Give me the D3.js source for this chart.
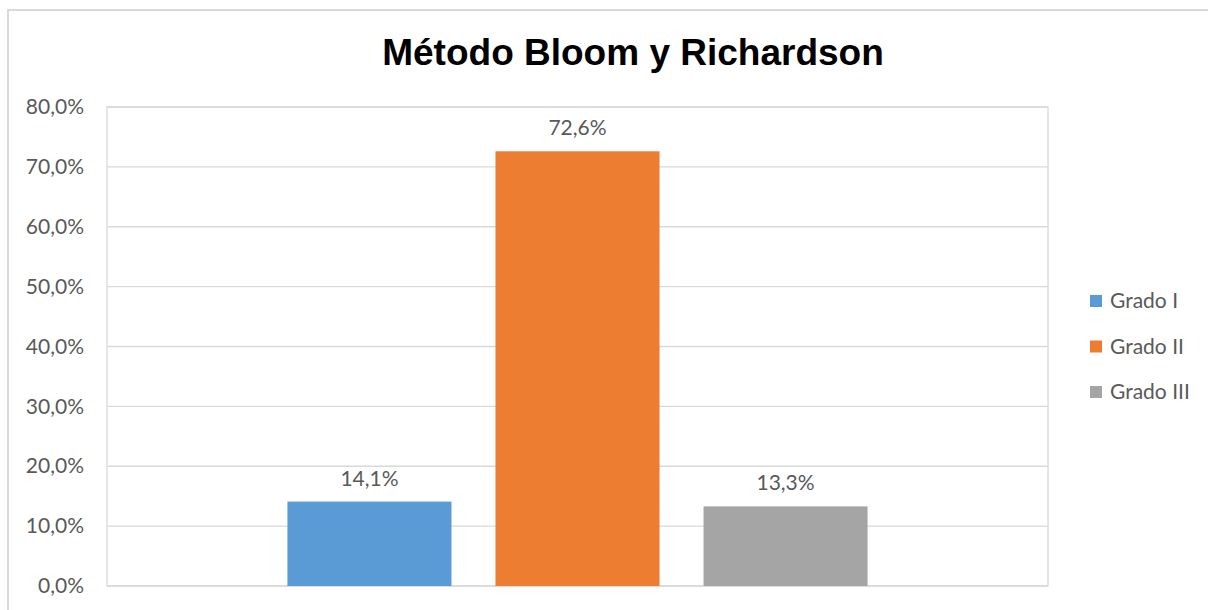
<!DOCTYPE html>
<html><head><meta charset="utf-8">
<script src="https://cdn.jsdelivr.net/npm/d3@7"></script>
<style>body{margin:0;background:#fff}</style>
</head><body>
<script>
const series = ["Grado I", "Grado II", "Grado III"];
const values = [14.1, 72.6, 13.3];
const colors = ["#5B9BD5", "#ED7D31", "#A5A5A5"];
const ticks = [0, 10, 20, 30, 40, 50, 60, 70, 80];
const title = "Método Bloom y Richardson";

const W = 1208, H = 610;
const svg = d3.select("body").append("svg").attr("width", W).attr("height", H);
const font = "Lato, 'Open Sans', sans-serif";
const fmt = v => d3.format(".1f")(v).replace(".", ",") + "%";

// outer chart border
svg.append("rect").attr("x", 8).attr("y", 10).attr("width", 1400).attr("height", 800)
  .attr("fill", "#fff").attr("stroke", "#d9d9d9").attr("stroke-width", 2);

const L = 107, T = 107, R = 1048, B = 586;
const y = d3.scaleLinear().domain([0, 80]).range([B, T]);
const x0 = d3.scaleBand().domain(["c"]).range([L, R]).paddingInner(0).paddingOuter(0.311);
const x1 = d3.scaleBand().domain(series).range([x0("c"), x0("c") + x0.bandwidth()]).paddingInner(0.2115);

// plot area border
svg.append("rect").attr("x", L).attr("y", T).attr("width", R - L).attr("height", B - T)
  .attr("fill", "none").attr("stroke", "#d9d9d9").attr("stroke-width", 1.3);

// gridlines
svg.append("g").selectAll("line").data(ticks).join("line")
  .attr("x1", L).attr("x2", R).attr("y1", d => y(d)).attr("y2", d => y(d))
  .attr("stroke", "#d9d9d9").attr("stroke-width", 1.3);

// y axis labels
const ax = svg.append("g").attr("transform", `translate(${L},0)`)
  .call(d3.axisLeft(y).tickValues(ticks).tickFormat(fmt).tickSize(0).tickPadding(23));
ax.select(".domain").remove();
ax.selectAll("text").attr("font-family", font).attr("font-size", 21).attr("fill", "#595959");

// bars
svg.append("g").selectAll("rect").data(values).join("rect")
  .attr("x", (d, i) => x1(series[i])).attr("width", x1.bandwidth())
  .attr("y", d => y(d)).attr("height", d => B - y(d))
  .attr("fill", (d, i) => colors[i]);

// data labels
svg.append("g").selectAll("text").data(values).join("text")
  .attr("x", (d, i) => x1(series[i]) + x1.bandwidth() / 2)
  .attr("y", d => y(d) - 16)
  .attr("text-anchor", "middle").attr("font-family", font).attr("font-size", 21)
  .attr("fill", "#595959").text(d => fmt(d));

// title
svg.append("text").attr("x", 633).attr("y", 65).attr("text-anchor", "middle")
  .attr("font-family", "'Liberation Sans', Arial, sans-serif").attr("font-weight", "bold")
  .attr("font-size", 37).attr("fill", "#000").text(title);

// legend
const lg = svg.append("g").selectAll("g").data(series).join("g")
  .attr("transform", (d, i) => `translate(1090,${301 + i * 45.5})`);
lg.append("rect").attr("x", 0).attr("y", -6).attr("width", 12).attr("height", 12)
  .attr("fill", (d, i) => colors[i]);
lg.append("text").attr("x", 20).attr("y", 0).attr("dy", "0.35em")
  .attr("font-family", font).attr("font-size", 21).attr("fill", "#595959").text(d => d);
</script>
</body></html>
